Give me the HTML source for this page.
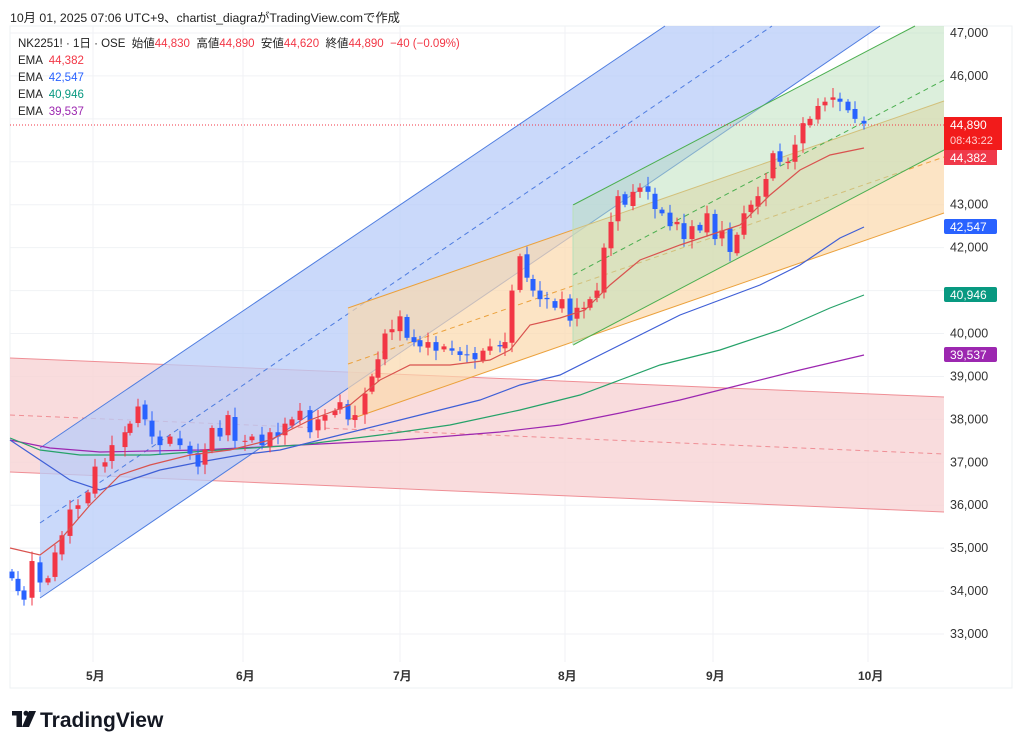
<!DOCTYPE html>
<html><head><meta charset="utf-8"><style>
body{margin:0;background:#fff;width:1024px;height:748px;overflow:hidden;font-family:"Liberation Sans","Noto Sans CJK JP",sans-serif}
.t{position:absolute;white-space:nowrap}
</style></head><body>
<div class="t" style="left:10px;top:8px;font-size:12.3px;color:#222">10月 01, 2025 07:06 UTC+9、chartist_diagraがTradingView.comで作成</div>
<svg id="s" width="1024" height="748" style="position:absolute;left:0;top:0">
<rect x="10" y="26" width="1002" height="662" fill="none" stroke="#eef0f3"/>
<g id="grid" stroke="#f0f2f5" stroke-width="1"></g>
<polygon points="10,358 944,397 944,512 10,472" fill="#f8d3d5" opacity="0.8"/>
<line x1="10" y1="358" x2="944" y2="397" stroke="#ef8e95"/>
<line x1="10" y1="472" x2="944" y2="512" stroke="#ef8e95"/>
<line x1="10" y1="415" x2="944" y2="454" stroke="#ef8e95" stroke-dasharray="5,4"/>
<polygon points="40,448 665,26 880,26 40,598" fill="#b8ccf8" opacity="0.75"/>
<line x1="40" y1="448" x2="665" y2="26" stroke="#4f7de0"/>
<line x1="40" y1="598" x2="880" y2="26" stroke="#4f7de0"/>
<line x1="40" y1="523" x2="772" y2="26" stroke="#4f7de0" stroke-dasharray="5,4"/>
<polygon points="348,308 944,101 944,213 348,420" fill="#fbd9ad" opacity="0.7"/>
<line x1="348" y1="308" x2="944" y2="101" stroke="#eba13c"/>
<line x1="348" y1="420" x2="944" y2="213" stroke="#eba13c"/>
<line x1="348" y1="364" x2="944" y2="157" stroke="#eba13c" stroke-dasharray="5,4"/>
<polygon points="573,205 915,26 944,26 944,150 573,345" fill="#b9dfb9" opacity="0.5"/>
<line x1="573" y1="205" x2="915" y2="26" stroke="#4caf50"/>
<line x1="573" y1="345" x2="944" y2="150" stroke="#4caf50"/>
<line x1="573" y1="275" x2="944" y2="80" stroke="#4caf50" stroke-dasharray="5,4"/>
<line x1="573" y1="205" x2="573" y2="345" stroke="#b9dfb9"/>
<polyline fill="none" stroke="#9c27b0" stroke-width="1.2" points="10,440 50,448 100,452 200,450 300,445 400,440 500,432 560,425 620,413 680,400 740,385 800,370 864,355"/>
<polyline fill="none" stroke="#26a269" stroke-width="1.2" points="10,438 40,450 80,455 150,455 220,450 300,445 380,435 450,425 520,410 580,395 620,380 660,365 720,350 780,330 830,308 864,295"/>
<polyline fill="none" stroke="#3f5fd6" stroke-width="1.2" points="10,440 40,460 70,480 100,490 130,480 160,470 200,462 240,455 280,450 320,440 360,430 400,420 440,410 480,400 520,385 560,375 600,355 640,335 680,315 720,300 760,285 800,265 840,238 864,227"/>
<g id="c"></g>
<polyline fill="none" stroke="#d9534f" stroke-width="1.2" points="10,548 40,555 60,540 90,505 120,475 150,465 190,455 230,450 270,440 310,420 350,405 380,380 410,365 450,365 490,360 510,350 530,325 560,318 585,310 610,285 640,260 680,245 710,235 740,225 770,195 800,170 830,155 864,148"/>
<line x1="10" y1="125" x2="944" y2="125" stroke="#f23645" stroke-dasharray="1,2"/>
<g font-size="12.5" fill="#333" id="ax"></g>
<rect x="944" y="117" width="58" height="33" fill="#f21b1b"/>
<text x="950" y="129" font-size="12" fill="#fff">44,890</text>
<text x="950" y="144" font-size="11" fill="#ffd0d0">08:43:22</text>
<rect x="944" y="150" width="53" height="15" fill="#f0394a"/>
<text x="950" y="162" font-size="12" fill="#fff">44,382</text>
<rect x="944" y="219" width="53" height="15" rx="2" fill="#2962ff"/>
<text x="950" y="231" font-size="12" fill="#fff">42,547</text>
<rect x="944" y="287" width="53" height="15" rx="2" fill="#089981"/>
<text x="950" y="299" font-size="12" fill="#fff">40,946</text>
<rect x="944" y="347" width="53" height="15" rx="2" fill="#9c27b0"/>
<text x="950" y="359" font-size="12" fill="#fff">39,537</text>
<g font-size="12" font-weight="bold" fill="#333">
<text x="86" y="680">5月</text><text x="236" y="680">6月</text><text x="393" y="680">7月</text><text x="558" y="680">8月</text><text x="706" y="680">9月</text><text x="858" y="680">10月</text>
</g>
<g fill="#131722"><rect x="12" y="711" width="10" height="4.5"/><rect x="16.5" y="711" width="5.5" height="16"/><circle cx="26" cy="713.3" r="2.5"/><polygon points="29,711 36,711 29,727 22,727"/></g>
<text x="40" y="727" font-size="21" font-weight="bold" fill="#131722">TradingView</text>
</svg>
<div class="t" style="left:18px;top:36px;font-size:11.5px;line-height:17px;color:#222">NK2251! · 1日 · OSE &nbsp;始値<span style="color:#f23645">44,830</span> &nbsp;高値<span style="color:#f23645">44,890</span> &nbsp;安値<span style="color:#f23645">44,620</span> &nbsp;終値<span style="color:#f23645">44,890</span> &nbsp;<span style="color:#f23645">−40 (−0.09%)</span><br>EMA &nbsp;<span style="color:#f23645">44,382</span><br>EMA &nbsp;<span style="color:#2962ff">42,547</span><br>EMA &nbsp;<span style="color:#089981">40,946</span><br>EMA &nbsp;<span style="color:#9c27b0">39,537</span></div>
<script>
const NS="http://www.w3.org/2000/svg";
function Y(p){return 33+(47000-p)*0.04293;}
function el(t,a,par){const e=document.createElementNS(NS,t);for(const k in a)e.setAttribute(k,a[k]);document.getElementById(par).appendChild(e);return e;}
for(let p=33000;p<=47000;p+=1000){const y=Y(p);el('line',{x1:10,y1:y,x2:944,y2:y},'grid');
 if(p!==44000&&p!==45000&&p!==41000){const t=el('text',{x:950,y:y+4},'ax');t.textContent=p.toLocaleString('en-US');}}
[93,243,400,565,713,868].forEach(x=>el('line',{x1:x,y1:26,x2:x,y2:662},'grid'));
const pts=[[12,34300],[18,34000],[24,33800],[32,34700],[40,34200],[48,34300],[55,34900],[62,35300],[70,35900],[78,36000],[88,36300],[95,36900],[105,37000],[112,37400],[125,37700],[130,37900],[138,38300],[145,38000],[152,37600],[160,37400],[170,37600],[180,37400],[190,37200],[198,36900],[205,37300],[212,37800],[220,37600],[228,38100],[235,37500],[245,37500],[252,37600],[262,37400],[270,37700],[278,37600],[285,37900],[292,38000],[300,38200],[310,37700],[318,38000],[325,38100],[335,38200],[340,38400],[348,38000],[355,38100],[365,38600],[372,39000],[378,39400],[385,40000],[392,40100],[400,40400],[407,39900],[414,39800],[420,39700],[428,39800],[436,39600],[444,39700],[452,39600],[460,39500],[467,39500],[475,39400],[483,39600],[490,39700],[500,39700],[505,39800],[512,41000],[520,41800],[527,41300],[533,41000],[540,40800],[547,40800],[555,40600],[562,40800],[570,40300],[577,40600],[584,40600],[590,40800],[597,41000],[604,42000],[611,42600],[618,43200],[625,43000],[633,43300],[640,43400],[648,43300],[655,42900],[662,42800],[670,42500],[677,42600],[684,42200],[692,42500],[700,42400],[707,42800],[715,42200],[722,42400],[730,41900],[737,42300],[744,42800],[751,43000],[758,43200],[766,43600],[773,44200],[780,44000],[788,44000],[795,44400],[803,44900],[810,45000],[818,45300],[825,45400],[833,45500],[840,45400],[848,45200],[855,45000],[864,44890]];
let prev=34500;
pts.forEach(([x,c],i)=>{let o=prev+((i*37)%7-3)*15;const up=c>=o;const col=up?'#f23645':'#2962ff';
 const hi=Math.max(o,c)+60+(i*53%5)*40,lo=Math.min(o,c)-60-(i*31%5)*40;
 el('line',{x1:x,y1:Y(hi),x2:x,y2:Y(lo),stroke:col},'c');
 const t=Y(Math.max(o,c)),b=Y(Math.min(o,c));
 el('rect',{x:x-2.5,y:t,width:5,height:Math.max(1,b-t),fill:col},'c');prev=c;});
</script>
</body></html>
